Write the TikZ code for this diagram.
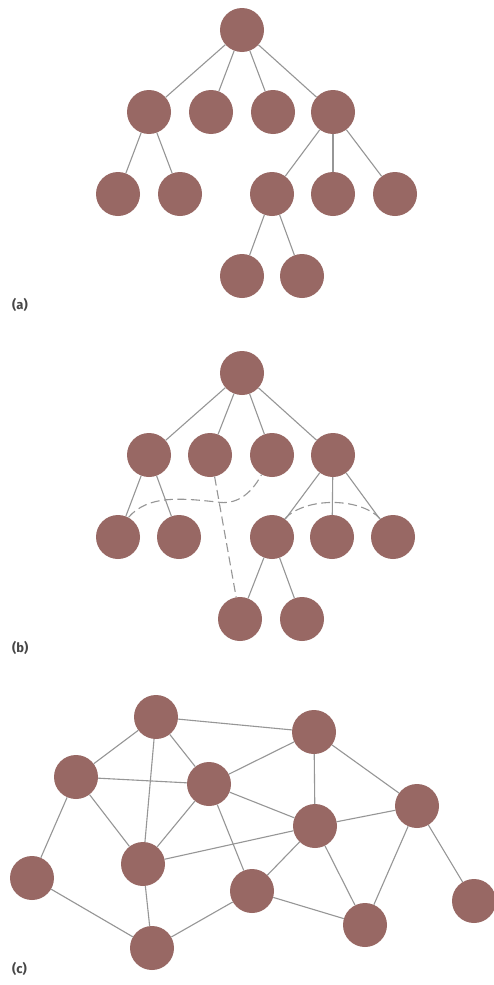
\documentclass[tikz,border=0pt]{standalone}
\usepackage{fontspec}
\setsansfont{Fira Sans}
\definecolor{nodefill}{RGB}{152,104,100}
\definecolor{edgecol}{RGB}{150,150,150}
\definecolor{labcol}{RGB}{70,70,70}
\begin{document}
\begin{tikzpicture}[x=1pt,y=-1pt,
  vert/.style={circle,fill=nodefill,draw=none,minimum size=44pt,inner sep=0pt},
  link/.style={draw=edgecol,line width=1.1pt},
  dlink/.style={draw=edgecol,line width=1.1pt,dash pattern=on 9pt off 4.5pt},
  lab/.style={font=\fontsize{13}{15}\selectfont\sffamily\bfseries,text=labcol,anchor=west,inner sep=0pt}]
\useasboundingbox (0,0) rectangle (494,985);
\fill[white] (0,0) rectangle (494,985);

% ---------- (a) ----------
\node[vert] (ar) at (242,30) {};
\node[vert] (a1) at (149,112) {};
\node[vert] (a2) at (211,112) {};
\node[vert] (a3) at (273,112) {};
\node[vert] (a4) at (333,112) {};
\node[vert] (a5) at (118,194) {};
\node[vert] (a6) at (180,194) {};
\node[vert] (a7) at (272,194) {};
\node[vert] (a8) at (333,194) {};
\node[vert] (a9) at (395,194) {};
\node[vert] (a10) at (242,276) {};
\node[vert] (a11) at (302,276) {};
\node[lab] (la) at (12,305) {(a)};
\foreach \u/\v in {ar/a1,ar/a2,ar/a3,ar/a4,a1/a5,a1/a6,a4/a7,a4/a8,a4/a9,a7/a10,a7/a11}
  \draw[link] (\u) -- (\v);

% ---------- (b) ----------
\node[vert] (br) at (242,373) {};
\node[vert] (b1) at (149,455) {};
\node[vert] (b2) at (210,455) {};
\node[vert] (b3) at (272,455) {};
\node[vert] (b4) at (333,455) {};
\node[vert] (b5) at (118,537) {};
\node[vert] (b6) at (179,537) {};
\node[vert] (b7) at (272,537) {};
\node[vert] (b8) at (332,537) {};
\node[vert] (b9) at (393,537) {};
\node[vert] (b10) at (240,619) {};
\node[vert] (b11) at (302,619) {};
\node[lab] (lb) at (12,648) {(b)};
\foreach \u/\v in {br/b1,br/b2,br/b3,br/b4,b1/b5,b1/b6,b4/b7,b4/b8,b4/b9,b7/b10,b7/b11}
  \draw[link] (\u) -- (\v);
\coordinate (wv) at (217,502);
\draw[dlink] (b5.62) .. controls (148,495) and (180,498) .. (wv)
  .. controls (235,505) and (250,496) .. (b3.-118);
\draw[dlink] (b2.-78) -- (b10.100);
\draw[dlink] (b7.55) .. controls (305,497) and (360,497) .. (b9.125);

% ---------- (c) ----------
\node[vert] (cA) at (156,717) {};
\node[vert] (cB) at (314,732) {};
\node[vert] (cC) at (76,777) {};
\node[vert] (cD) at (209,784) {};
\node[vert] (cE) at (417,806) {};
\node[vert] (cF) at (315,826) {};
\node[vert] (cG) at (32,878) {};
\node[vert] (cH) at (143,864) {};
\node[vert] (cI) at (252,891) {};
\node[vert] (cJ) at (474,901) {};
\node[vert] (cK) at (365,925) {};
\node[vert] (cL) at (152,948) {};
\node[lab] (lc) at (12,969) {(c)};
\foreach \u/\v in {cA/cB,cA/cC,cA/cD,cA/cH,cC/cD,cC/cG,cC/cH,cD/cB,cD/cF,cD/cH,cD/cI,
  cB/cF,cB/cE,cE/cF,cE/cK,cE/cJ,cF/cH,cF/cI,cF/cK,cG/cL,cH/cL,cI/cL,cI/cK}
  \draw[link] (\u) -- (\v);
\end{tikzpicture}
\end{document}
